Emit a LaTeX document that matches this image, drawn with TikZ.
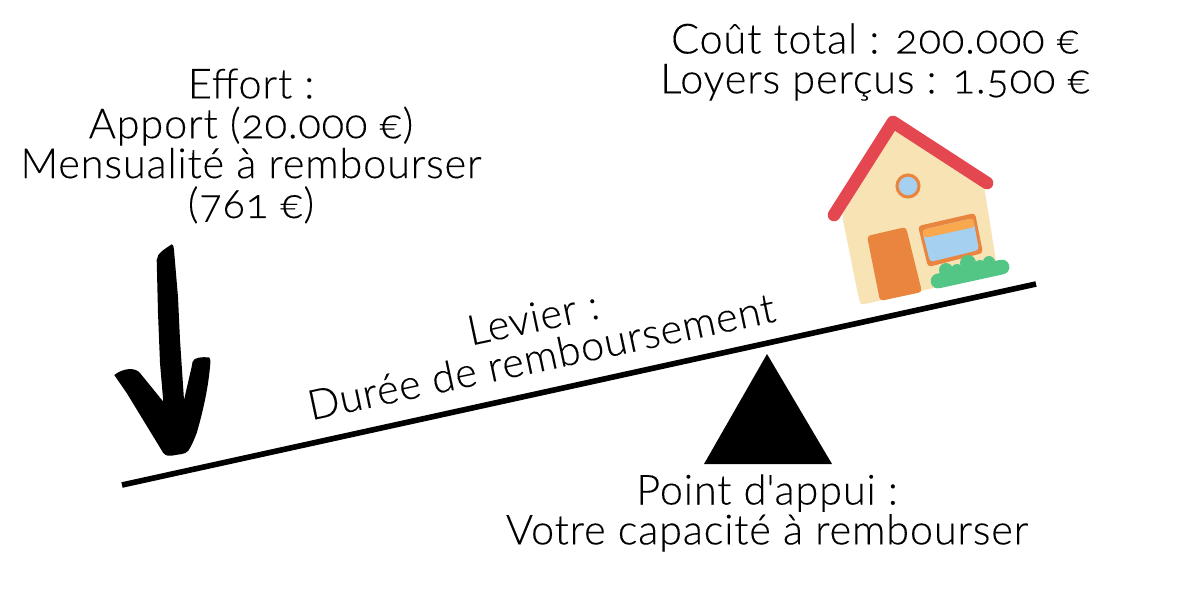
\documentclass[tikz,border=0pt]{standalone}
\usepackage{fontspec}
\setmainfont[Numbers=OldStyle,LetterSpace=2,FakeBold=0.2]{Lato Light}
\usepackage{tikz}
\definecolor{roofred}{HTML}{E4474F}
\definecolor{wallcream}{HTML}{F8E3B5}
\definecolor{doororange}{HTML}{EA8540}
\definecolor{bandorange}{HTML}{F9A84D}
\definecolor{glassblue}{HTML}{A5D0F0}
\definecolor{bushgreen}{HTML}{53C585}
\tikzstyle{mytext} = [align=center, inner sep=0pt, font=\fontsize{29.5pt}{28.35pt}\selectfont]
\tikzstyle{mypart} = [line join=round, rounded corners=2.5pt]

\begin{document}
\begin{tikzpicture}[x=0.025cm, y=-0.025cm]
\useasboundingbox (0,0) rectangle (1200,600);
% texts
\node [mytext] (effort) at (251,146) {Effort :\\Apport (20.000 €)\\Mensualité à rembourser\\(761 €)};
\node [mytext] (cout) at (875,62) {Coût total : 200.000 €\\Loyers perçus : 1.500 €};
\node [mytext] (appui) at (767,513) {Point d\textquotesingle appui :\\Votre capacité à rembourser};
\node [mytext, rotate=12] (levier) at (537,337) {Levier :\\Durée de remboursement};
% lever
\coordinate (leverleft) at (122,485);
\coordinate (leverright) at (1036,284);
\draw [line width=4pt] (leverleft) -- (leverright);
% fulcrum
\fill (767,354) -- (832,464) -- (704,464) -- cycle;
% hand drawn arrow
\fill (171.7,244.3) .. controls (165,249) and (157,253) .. (156.7,260) -- (158,313) -- (160,363) -- (163.3,401.7)
  -- (140,373) .. controls (135,367) and (123,368) .. (114.3,375) -- (126.7,393) -- (163.3,453)
  .. controls (166,456) and (169,456) .. (171.7,455.7) .. controls (178,454) and (185,455) .. (188.3,450.7)
  .. controls (192,445) and (194,440) .. (196.7,433) .. controls (202,415) and (208,390) .. (210,366.7)
  .. controls (211,360) and (210,357) .. (208.3,357.3) .. controls (202,357) and (194,357) .. (192.5,362)
  -- (191.7,366.7) -- (184,400) -- (180,340) -- (178,297) -- (174,250) .. controls (173.5,246) and (173,244) .. (171.7,244.3) -- cycle;
% house
\fill [wallcream, mypart] (896,128) -- (984,186) -- (998,273) -- (865,304) .. controls (860,304) and (859,298) .. (858,295) -- (842,215) -- cycle;
\fill [doororange, mypart] (867,236) -- (906,227) -- (922,292) -- (880,301) -- cycle;
\fill [doororange, mypart] (918,226) -- (975,213) -- (983,253) -- (928,267) -- cycle;
\fill [glassblue, mypart] (922,230) -- (973,218) -- (979,250) -- (930,262) -- cycle;
\fill [bandorange, mypart] (922,230) -- (973,218) -- (975,227) -- (924,238) -- cycle;
\draw [doororange, fill=glassblue, line width=2.2pt] (908,186) circle (11);
\draw [roofred, line width=9pt, line cap=round, line join=round] (834,215) -- (893,122) -- (987,183);
% bush
\draw [bushgreen, line width=10.5pt, line cap=round] (938,281) -- (1002,267);
\foreach \bx/\by/\br in {946/270/7, 957/270/6, 968/263/8, 980/266/6, 989/262/6, 1001/266/6}
  \fill [bushgreen] (\bx,\by) circle (\br);
\end{tikzpicture}
\end{document}
